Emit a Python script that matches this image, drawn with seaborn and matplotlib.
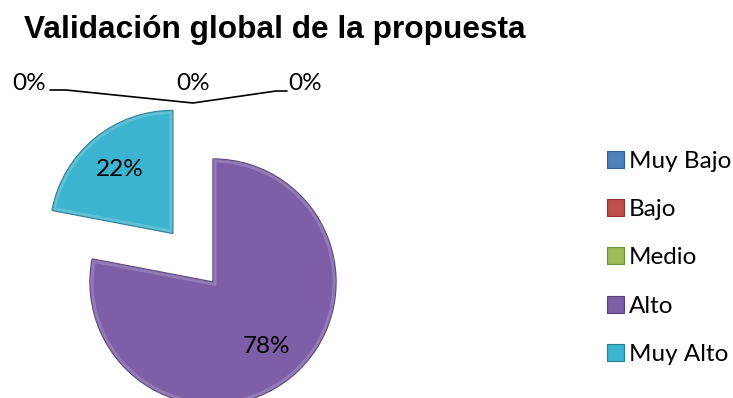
import matplotlib
matplotlib.use("Agg")
import matplotlib.pyplot as plt
from matplotlib.patches import Patch, Wedge
import seaborn as sns

# Chart content
title = "Validación global de la propuesta"
categories = ["Muy Bajo", "Bajo", "Medio", "Alto", "Muy Alto"]
percentages = [0, 0, 0, 78, 22]
colors = ["#4F81BD", "#C0504D", "#9BBB59", "#7D5EA7", "#3CB3CF"]
edge_colors = ["#2F5F95", "#93302D", "#6F8F35", "#5A3F80", "#217F97"]

sns.set_theme(style="white")
plt.rcParams["font.family"] = ["Lato", "DejaVu Sans"]
plt.rcParams["text.color"] = "black"

W, H = 733, 398
fig = plt.figure(figsize=(W / 100, H / 100), dpi=100)
ax = fig.add_axes([0, 0, 1, 1])

# pie placement (pixel units of the canvas)
cx, cy, R = 213, H - 282, 123
explode = [0, 0, 0, 0, 63]

wedges, texts, autotexts = ax.pie(
    percentages,
    colors=colors,
    startangle=90,
    counterclock=False,
    explode=explode,
    center=(cx, cy),
    radius=R,
    autopct=lambda p: f"{p:.0f}%" if p > 0 else "",
    pctdistance=0.68,
    wedgeprops=dict(linewidth=1.0),
    textprops=dict(fontsize=17.5, color="black"),
)
for w, v, ec in zip(wedges, percentages, edge_colors):
    w.set_edgecolor(ec)
    if v == 0:
        w.set_visible(False)
        continue
    # soft bevel: a light band just inside the wedge outline
    rim = Wedge(w.center, w.r, w.theta1, w.theta2, facecolor="none",
                edgecolor="white", linewidth=5, alpha=0.18, zorder=w.get_zorder() + 0.1)
    ax.add_patch(rim)
    rim.set_clip_path(w)

ax.set_xlim(0, W)
ax.set_ylim(0, H)
ax.set_aspect("auto")
ax.axis("off")

# leader lines for the empty categories, meeting above the pie
anchor = (cx - 20, H - 103)
lab_y = H - 84
zero_idx = [i for i, v in enumerate(percentages) if v == 0]
ax.plot([50, 66, anchor[0], 276, 287], [H - 90, H - 90, anchor[1], H - 91, H - 91],
        color="black", lw=1.2, solid_joinstyle="round")
ax.text(46, lab_y, f"{percentages[zero_idx[0]]}%", ha="right", va="center", fontsize=17.5)
ax.text(anchor[0], lab_y, f"{percentages[zero_idx[1]]}%", ha="center", va="center", fontsize=17.5)
ax.text(288, lab_y, f"{percentages[zero_idx[2]]}%", ha="left", va="center", fontsize=17.5)

fig.text(24 / W, 1 - 38 / H, title, fontsize=22.8, fontweight="bold", color="black",
         family=["Liberation Sans", "DejaVu Sans"], ha="left", va="baseline")

handles = [Patch(facecolor=c, edgecolor=e, linewidth=0.8) for c, e in zip(colors, edge_colors)]
fig.legend(handles, categories, loc="upper left", bbox_to_anchor=(607 / W, 1 - 151 / H),
           frameon=False, fontsize=17.5, handlelength=0.7, handleheight=0.7,
           handletextpad=0.2, labelspacing=1.12, borderpad=0, borderaxespad=0,
           labelcolor="black")

fig.savefig("out.png", dpi=100)
